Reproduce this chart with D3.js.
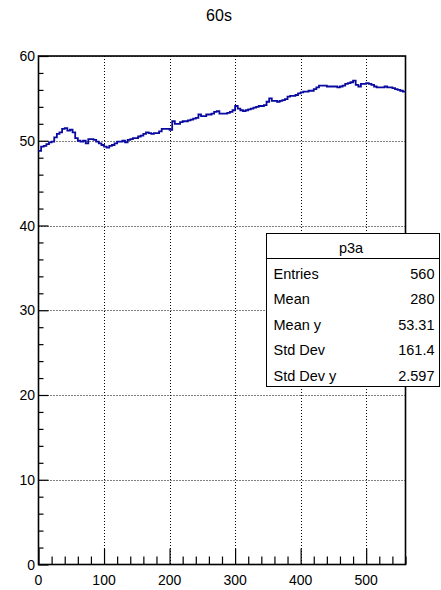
<!DOCTYPE html>
<html>
<head>
<meta charset="utf-8">
<script src="https://cdn.jsdelivr.net/npm/d3@7"></script>
<style>
  html, body { margin: 0; padding: 0; background: #fff; }
  svg { display: block; font-family: "Liberation Sans", Arial, Helvetica, sans-serif; }
</style>
</head>
<body>
<svg id="chart" width="441" height="590"></svg>
<script>
// Profile p3a: mean value per 4-unit bin, bins starting at 0
const binWidth = 4;
const profileValues = [
  48.8, 49.3, 49.4, 49.6, 49.8, 49.9, 50.4, 50.8, 51.0, 51.4,
  51.5, 51.2, 51.3, 51.0, 50.3, 50.0, 49.9, 50.0, 49.7, 50.2,
  50.2, 50.1, 49.9, 49.7, 49.5, 49.3, 49.2, 49.4, 49.5, 49.7,
  49.9, 49.9, 50.0, 49.8, 50.1, 50.2, 50.3, 50.3, 50.5, 50.6,
  50.8, 51.0, 50.9, 50.8, 50.9, 50.9, 51.1, 51.4, 51.4, 51.4,
  51.3, 52.3, 52.0, 52.0, 52.2, 52.3, 52.3, 52.4, 52.5, 52.6,
  52.7, 53.1, 52.9, 52.9, 53.1, 53.1, 53.2, 53.4, 53.5, 53.2,
  53.2, 53.2, 53.3, 53.4, 53.6, 54.1, 53.8, 53.6, 53.5, 53.6,
  53.7, 53.8, 53.9, 54.0, 54.1, 54.1, 54.2, 54.6, 55.0, 54.7,
  54.7, 54.6, 54.7, 54.8, 54.9, 55.2, 55.3, 55.3, 55.4, 55.6,
  55.7, 55.8, 55.8, 55.9, 55.9, 56.1, 56.3, 56.5, 56.5, 56.5,
  56.4, 56.4, 56.4, 56.4, 56.3, 56.4, 56.5, 56.7, 56.8, 56.9,
  57.1, 56.6, 56.4, 56.7, 56.7, 56.8, 56.7, 56.6, 56.4, 56.3,
  56.3, 56.3, 56.4, 56.3, 56.3, 56.2, 56.1, 56.0, 55.9, 55.8
];
const xTickValues = [0, 100, 200, 300, 400, 500];
const yTickValues = [0, 10, 20, 30, 40, 50, 60];
const statsLabels = ["Entries", "Mean", "Mean y", "Std Dev", "Std Dev y"];
const statsValues = ["560", "280", "53.31", "161.4", "2.597"];
const histTitle = "60s";
const statsTitle = "p3a";

const svg = d3.select("#chart");
const frame = { left: 38.5, right: 405.5, top: 56, bottom: 564.5 };

const x = d3.scaleLinear().domain([0, 560]).range([frame.left, frame.right]);
const y = d3.scaleLinear().domain([0, 60]).range([frame.bottom, frame.top]);

// Title
svg.append("text")
  .attr("x", 219).attr("y", 21)
  .attr("text-anchor", "middle")
  .attr("font-size", 16)
  .text(histTitle);

// Dotted grid at the major ticks
const grid = svg.append("g")
  .attr("stroke", "#000")
  .attr("stroke-width", 1)
  .attr("stroke-dasharray", "1,2");
grid.selectAll("line.gx")
  .data(xTickValues.filter(v => v > 0))
  .join("line")
  .attr("x1", d => Math.round(x(d)) + 0.5).attr("x2", d => Math.round(x(d)) + 0.5)
  .attr("y1", frame.top).attr("y2", frame.bottom);
grid.selectAll("line.gy")
  .data(yTickValues.filter(v => v > 0))
  .join("line")
  .attr("y1", d => Math.round(y(d)) + 0.5).attr("y2", d => Math.round(y(d)) + 0.5)
  .attr("x1", frame.left).attr("x2", frame.right);

// Axes
const xAxis = d3.axisBottom(x)
  .tickValues(d3.range(0, 561, 20))
  .tickSizeInner(-8).tickSizeOuter(0)
  .tickFormat("");
const gx = svg.append("g")
  .attr("transform", `translate(0,${frame.bottom})`)
  .call(xAxis);
gx.selectAll(".tick line")
  .attr("y2", d => d % 100 === 0 ? -16 : -8);

const xLabels = svg.append("g");
xLabels.selectAll("text")
  .data(xTickValues)
  .join("text")
  .attr("x", d => x(d))
  .attr("y", 585)
  .attr("text-anchor", "middle")
  .attr("font-size", 14)
  .text(d => d);

const yAxis = d3.axisLeft(y)
  .tickValues(d3.range(0, 61, 2))
  .tickSizeInner(-5).tickSizeOuter(0)
  .tickFormat("");
const gy = svg.append("g")
  .attr("transform", `translate(${frame.left},0)`)
  .call(yAxis);
gy.selectAll(".tick line")
  .attr("x2", d => d % 10 === 0 ? 10 : 5);

const yLabels = svg.append("g");
yLabels.selectAll("text")
  .data(yTickValues)
  .join("text")
  .attr("x", 35)
  .attr("y", d => y(d) + 5)
  .attr("text-anchor", "end")
  .attr("font-size", 14)
  .text(d => d);

[gx, gy].forEach(g => {
  g.selectAll(".domain").remove();
  g.selectAll(".tick line").attr("stroke", "#000").attr("stroke-width", 1.2);
});

// Frame
svg.append("rect")
  .attr("x", frame.left).attr("y", frame.top)
  .attr("width", frame.right - frame.left)
  .attr("height", frame.bottom - frame.top)
  .attr("fill", "none")
  .attr("stroke", "#000")
  .attr("stroke-width", 1.6);

// Profile as a step line
const points = profileValues.map((v, i) => [i * binWidth, v]);
points.push([profileValues.length * binWidth, profileValues[profileValues.length - 1]]);
const line = d3.line()
  .x(d => x(d[0]))
  .y(d => y(d[1]))
  .curve(d3.curveStepAfter);
svg.append("path")
  .datum(points)
  .attr("fill", "none")
  .attr("stroke", "#0a0aa0")
  .attr("stroke-width", 1.8)
  .attr("d", line);

// Statistics box
const box = { x: 266.5, y: 233.5, w: 173, h: 153, head: 25 };
const stats = svg.append("g");
stats.append("rect")
  .attr("x", box.x).attr("y", box.y)
  .attr("width", box.w).attr("height", box.h)
  .attr("fill", "#fff")
  .attr("stroke", "#000")
  .attr("stroke-width", 1);
stats.append("line")
  .attr("x1", box.x).attr("x2", box.x + box.w)
  .attr("y1", box.y + box.head).attr("y2", box.y + box.head)
  .attr("stroke", "#000");
stats.append("text")
  .attr("x", box.x + box.w / 2 - 2).attr("y", box.y + 19)
  .attr("text-anchor", "middle")
  .attr("font-size", 14.5)
  .text(statsTitle);
const rowH = 25.5;
stats.selectAll("text.lab")
  .data(statsLabels)
  .join("text")
  .attr("class", "lab")
  .attr("x", box.x + 7)
  .attr("y", (d, i) => box.y + box.head + 20 + i * rowH)
  .attr("font-size", 14.5)
  .text(d => d);
stats.selectAll("text.val")
  .data(statsValues)
  .join("text")
  .attr("class", "val")
  .attr("x", box.x + box.w - 5)
  .attr("y", (d, i) => box.y + box.head + 20 + i * rowH)
  .attr("text-anchor", "end")
  .attr("font-size", 14.5)
  .text(d => d);
</script>
</body>
</html>
